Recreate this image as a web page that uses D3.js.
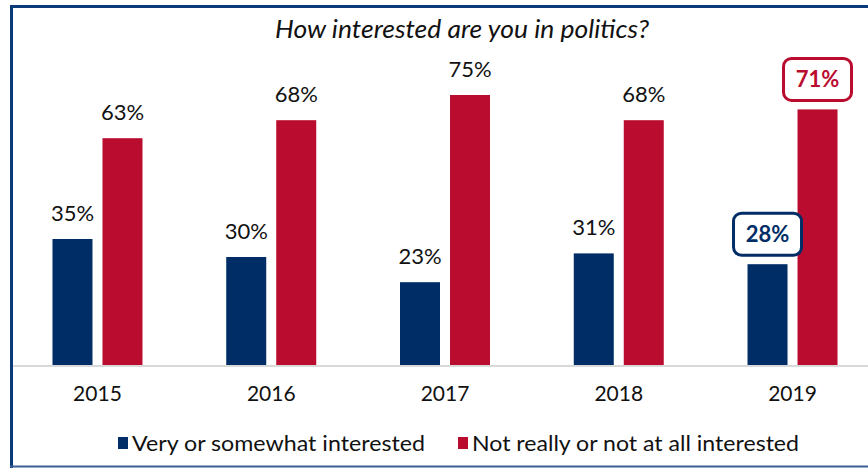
<!DOCTYPE html>
<html>
<head>
<meta charset="utf-8">
<script src="https://cdn.jsdelivr.net/npm/d3@7"></script>
<style>
  body { margin: 0; background: #fff; }
  svg { display: block; font-family: Lato, "Open Sans", sans-serif; }
</style>
</head>
<body>
<div class="chart"></div>
<script>
// data
const years = ['2015', '2016', '2017', '2018', '2019'];
const seriesNames = ['Very or somewhat interested', 'Not really or not at all interested'];
const interested = [35, 30, 23, 31, 28];
const notInterested = [63, 68, 75, 68, 71];

const W = 868, H = 468;
const navy = '#002d66', red = '#ba0c2f';
const colorScale = d3.scaleOrdinal().domain(seriesNames).range([navy, red]);

const svg = d3.select('.chart').append('svg')
    .attr('width', W)
    .attr('height', H);

// frame
svg.append('path')
    .attr('d', 'M 11.5 468 V 6.5 H 868')
    .attr('fill', 'none')
    .attr('stroke', '#0b3a78')
    .attr('stroke-width', 3);
svg.append('line')
    .attr('x1', 10).attr('x2', 868)
    .attr('y1', 466.5).attr('y2', 466.5)
    .attr('stroke', '#3b5f95')
    .attr('stroke-width', 2);

const baseline = 365;
const xScale = d3.scaleBand().domain(years).range([10.6, 879.4]);
const xSub = d3.scaleBand().domain(seriesNames)
    .range([xScale.bandwidth() / 2 - 45, xScale.bandwidth() / 2 + 45])
    .paddingInner(0.2);
const yScale = d3.scaleLinear().domain([0, 100]).range([baseline, 5]);

const data = years.map((y, i) => ({
    year: y,
    values: [
        {key: seriesNames[0], value: interested[i]},
        {key: seriesNames[1], value: notInterested[i]}
    ]
}));

// baseline
svg.append('line')
    .attr('x1', 13).attr('x2', 868)
    .attr('y1', baseline + 1).attr('y2', baseline + 1)
    .attr('stroke', '#d9d9d9')
    .attr('stroke-width', 2);

const groups = svg.selectAll('.year')
    .data(data)
    .enter()
    .append('g')
    .attr('class', 'year')
    .attr('transform', d => 'translate(' + xScale(d.year) + ',0)');

groups.selectAll('rect')
    .data(d => d.values.map(v => ({...v, year: d.year})))
    .enter()
    .append('rect')
    .attr('x', d => xSub(d.key))
    .attr('width', xSub.bandwidth())
    .attr('y', d => yScale(d.value))
    .attr('height', d => baseline - yScale(d.value))
    .attr('fill', d => colorScale(d.key));

// value labels
groups.selectAll('.lbl')
    .data(d => d.values.map(v => ({...v, year: d.year})))
    .enter()
    .each(function(d) {
        const g = d3.select(this);
        const cx = xSub(d.key) + xSub.bandwidth() / 2;
        const top = yScale(d.value);
        if (d.year === '2019') {
            const c = colorScale(d.key);
            g.append('rect')
                .attr('x', cx - 34)
                .attr('y', top - 51)
                .attr('width', 68)
                .attr('height', 42)
                .attr('rx', 8)
                .attr('fill', '#fff')
                .attr('stroke', c)
                .attr('stroke-width', 3);
            g.append('text')
                .attr('x', cx)
                .attr('y', top - 22)
                .attr('text-anchor', 'middle')
                .attr('font-size', 22)
                .attr('font-weight', 'bold')
                .attr('fill', c)
                .text(d.value + '%');
        } else {
            g.append('text')
                .attr('x', cx)
                .attr('y', top - 18)
                .attr('text-anchor', 'middle')
                .attr('font-size', 22)
                .attr('fill', '#111')
                .text(d.value + '%');
        }
    });

// year axis labels
const xAxis = d3.axisBottom(xScale).tickSize(0).tickPadding(0);
const axisG = svg.append('g')
    .attr('transform', 'translate(0,' + (baseline + 15) + ')')
    .call(xAxis);
axisG.select('.domain').remove();
axisG.selectAll('text')
    .attr('font-family', 'Lato, sans-serif')
    .attr('font-size', 21)
    .attr('fill', '#111')
    .attr('dy', '1em');

// title
svg.append('text')
    .attr('x', 462)
    .attr('y', 38)
    .attr('text-anchor', 'middle')
    .attr('font-size', 25)
    .attr('font-style', 'italic')
    .attr('fill', '#111')
    .attr('textLength', 374)
    .attr('lengthAdjust', 'spacingAndGlyphs')
    .text('How interested are you in politics?');

// legend
const legendX = [118, 458];
const legendLen = [293, 327];
const legend = svg.selectAll('.legend')
    .data(seriesNames)
    .enter()
    .append('g')
    .attr('class', 'legend')
    .attr('transform', (d, i) => 'translate(' + legendX[i] + ',437)');

legend.append('rect')
    .attr('width', 10)
    .attr('height', 12)
    .attr('fill', colorScale);

legend.append('text')
    .attr('x', 14)
    .attr('y', 14)
    .attr('font-size', 22)
    .attr('fill', '#111')
    .attr('textLength', (d, i) => legendLen[i])
    .attr('lengthAdjust', 'spacingAndGlyphs')
    .text(d => d);
</script>
</body>
</html>
